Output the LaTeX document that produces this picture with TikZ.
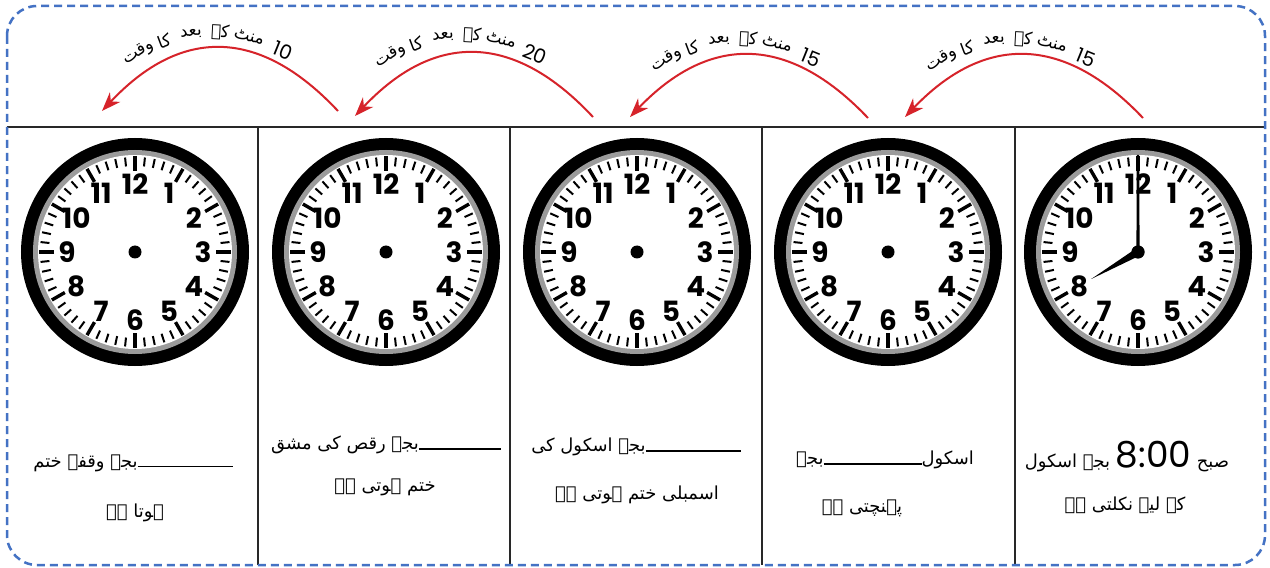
\documentclass[tikz,border=0pt]{standalone}
\usepackage{fontspec}
\usetikzlibrary{arrows.meta,calc}
\TeXXeTstate=1
\newfontfamily\urdu[Script=Arabic]{DejaVu Sans}
\newfontfamily\clockfont{Poppins}
\definecolor{bord}{RGB}{68,114,196}
\definecolor{arr}{RGB}{214,35,42}
\definecolor{ringg}{RGB}{155,155,155}
\definecolor{rulec}{RGB}{40,40,40}
\newcommand\blank[1]{\rule{#1bp}{1.3bp}}
\newcommand\arcwords[4]{%
 \node[anum,rotate=-22] (#1num) at ({#2+140*sin(30)},{#3-140*cos(30)}) {#4};
 \node[albl,rotate=-15] (#1w1) at ({#2+140*sin(15)},{#3-140*cos(15)}) {\beginR منٹ\endR};
 \node[albl,rotate=-3] (#1w2) at ({#2+140*sin(3)},{#3-140*cos(3)}) {\beginR کے\endR};
 \node[albl,rotate=9] (#1w3) at ({#2+140*sin(-9)},{#3-140*cos(-9)}) {\beginR بعد\endR};
 \node[albl,rotate=20.5] (#1w4) at ({#2+140*sin(-20.5)},{#3-140*cos(-20.5)}) {\beginR کا\endR};
 \node[albl,rotate=32] (#1w5) at ({#2+140*sin(-32)},{#3-140*cos(-32)}) {\beginR وقت\endR};
}
\tikzset{
 bordr/.style={draw=bord, line width=2.5bp, dash pattern=on 8bp off 5bp, rounded corners=30bp},
 gridline/.style={draw=rulec, line width=2.5bp},
 redarc/.style={draw=arr, line width=2bp, -{Stealth[length=19bp,width=14bp,inset=6bp]}},
 albl/.style={inner sep=0, font=\urdu\fontsize{17}{19}\selectfont},
 anum/.style={inner sep=0, font=\clockfont\fontsize{20}{20}\selectfont},
 utext/.style={inner sep=0, font=\urdu\fontsize{18}{24}\selectfont},
 num/.style={inner sep=0, font=\clockfont\bfseries\fontsize{28}{28}\selectfont},
 clock/.pic={
  \fill[black] (0,0) circle[radius=114bp];
  \fill[ringg] (0,0) circle[radius=102bp];
  \fill[white] (0,0) circle[radius=97bp];
  \foreach \m in {0,...,59}{
    \pgfmathtruncatemacro\rf{mod(\m,5)}
    \ifnum\rf=0
      \draw[line width=3.4bp] ({6*\m-90}:81) -- ({6*\m-90}:96);
    \else
      \draw[line width=2bp] ({6*\m-90}:86) -- ({6*\m-90}:95);
    \fi
  }
  \foreach \h in {1,...,12}
    \node[num] (-n\h) at ({30*\h-90}:68) {\h};
  \node[circle,fill=black,inner sep=0,minimum size=13bp] (-ctr) at (0,0) {};
 }
}
\begin{document}
\begin{tikzpicture}[x=1bp,y=-1bp]
\useasboundingbox (0,0) rectangle (1270,568);
\fill[white] (0,0) rectangle (1270,568);
% grid
\draw[gridline] (7,127) -- (1266,127);
\foreach \x in {258,510,762,1015} \draw[gridline] (\x,127) -- (\x,565);
% border
\draw[bordr] (7,6) rectangle (1265,565);
% clocks
\pic (c1) at (135,252) {clock};
\pic (c2) at (386,252) {clock};
\pic (c3) at (637,252) {clock};
\pic (c4) at (888,252) {clock};
\pic (c5) at (1138,252) {clock};
% hands of clock 5
\begin{scope}[shift={(c5-ctr.center)}]
  \fill (60:4) -- (150:54) -- (240:4) -- (330:6) -- cycle;
  \fill (-1.6,0) -- (-1.2,-97) -- (1.2,-97) -- (1.6,0) -- cycle;
  \fill (0,0) circle[radius=6.5bp];
\end{scope}
% arcs
\coordinate (a1t) at (338,111); \coordinate (a1h) at (102,111);
\coordinate (a2t) at (593,117); \coordinate (a2h) at (355,116);
\coordinate (a3t) at (868,118); \coordinate (a3h) at (630,117);
\coordinate (a4t) at (1143,118); \coordinate (a4h) at (905,117);
\draw[redarc] (a1t) .. controls (259.3,27) and (180.7,27) .. (a1h);
\draw[redarc] (a2t) .. controls (513.7,32) and (434.3,31.7) .. (a2h);
\draw[redarc] (a3t) .. controls (788.7,34.3) and (709.3,34) .. (a3h);
\draw[redarc] (a4t) .. controls (1063.7,34.3) and (984.3,34) .. (a4h);
% arc labels
\arcwords{l1}{213}{172}{10}
\arcwords{l2}{465}{175}{20}
\arcwords{l3}{741}{179}{15}
\arcwords{l4}{1016}{179}{15}
% bottom texts
\node[utext] (t1a) at (133,463) {\beginR\blank{95}بجے وقفہ ختم\endR};
\node[utext] (t1b) at (135,513) {\beginR ہوتا ہے\endR};
\node[utext] (t2a) at (386,445) {\beginR\blank{82}بجے رقص کی مشق\endR};
\node[utext] (t2b) at (385,487) {\beginR ختم ہوتی ہے\endR};
\node[utext] (t3a) at (636,447) {\beginR\blank{95}بجے اسکول کی\endR};
\node[utext] (t3b) at (637,495) {\beginR اسمبلی ختم ہوتی ہے\endR};
\node[utext] (t4a) at (885,460) {\beginR اسکول\blank{98}بجے\endR};
\node[utext] (t4b) at (862,508) {\beginR پہنچتی ہے\endR};
\node[utext] (t5a) at (1127,457) {\beginR صبح \beginL{\clockfont\fontsize{36}{36}\selectfont 8:00}\endL{} بجے اسکول\endR};
\node[utext] (t5b) at (1125,505) {\beginR کے لیے نکلتی ہے\endR};
\end{tikzpicture}
\end{document}
